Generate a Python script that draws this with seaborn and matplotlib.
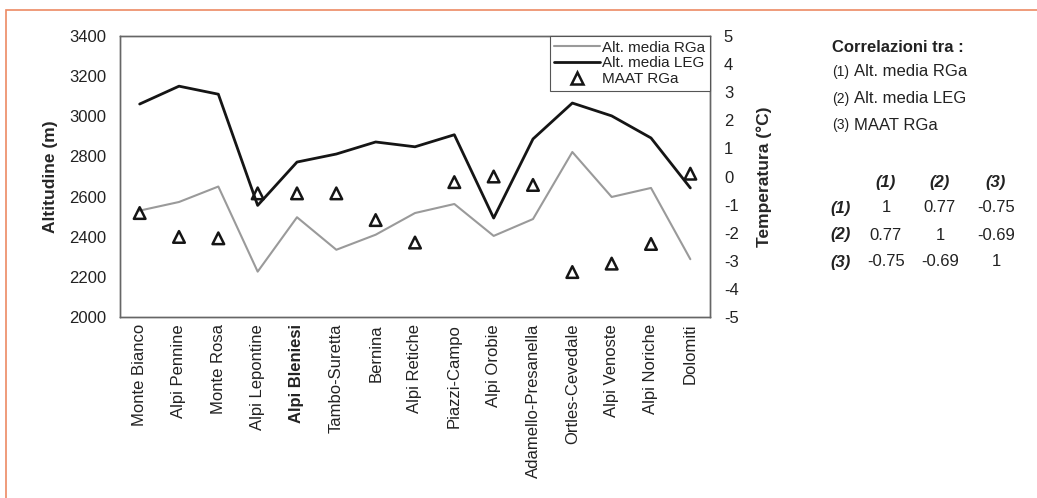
import pandas as pd
import seaborn as sns
import matplotlib.pyplot as plt
from matplotlib.lines import Line2D
from matplotlib.patches import Rectangle

# Dati
gruppi = ['Monte Bianco', 'Alpi Pennine', 'Monte Rosa', 'Alpi Lepontine', 'Alpi Bleniesi',
          'Tambo-Suretta', 'Bernina', 'Alpi Retiche', 'Piazzi-Campo', 'Alpi Orobie',
          'Adamello-Presanella', 'Ortles-Cevedale', 'Alpi Venoste', 'Alpi Noriche', 'Dolomiti']
alt_rga = [2530, 2573, 2650, 2226, 2497, 2335, 2410, 2518, 2563, 2404, 2488, 2822, 2598, 2643, 2288]
alt_leg = [3061, 3150, 3110, 2556, 2772, 2812, 2872, 2848, 2908, 2493, 2887, 3066, 3002, 2892, 2643]
maat_rga = [-1.3, -2.15, -2.2, -0.6, -0.6, -0.6, -1.55, -2.35, -0.2, 0.0, -0.3, -3.4, -3.1, -2.4, 0.1]

corr_nomi = ['Alt. media RGa', 'Alt. media LEG', 'MAAT RGa']
corr = [['1', '0.77', '-0.75'],
        ['0.77', '1', '-0.69'],
        ['-0.75', '-0.69', '1']]

df = pd.DataFrame({'pos': range(len(gruppi)), 'gruppo': gruppi,
                   'rga': alt_rga, 'leg': alt_leg, 'maat': maat_rga})

sns.set_style('white')
plt.rcParams['font.family'] = ['Liberation Sans', 'DejaVu Sans']
plt.rcParams['text.color'] = '#222222'
plt.rcParams['axes.unicode_minus'] = False

W, H = 1037, 498
fig = plt.figure(figsize=(W / 100, H / 100), dpi=100)


def px(x, y):
    return x / W, 1 - y / H


# cornice arancione
fig.patches.append(Rectangle(px(6, 520), 1.1, (520 - 10) / H, transform=fig.transFigure,
                             fill=False, edgecolor='#ec8a63', linewidth=1.2))

ax = fig.add_axes([120 / W, 1 - 317 / H, 590 / W, 281 / H])
sns.lineplot(data=df, x='pos', y='rga', ax=ax, color='#9a9a9a', linewidth=1.5)
sns.lineplot(data=df, x='pos', y='leg', ax=ax, color='#151515', linewidth=2.0)
ax.set_ylim(2000, 3400)
ax.set_yticks(range(2000, 3401, 200))
ax.set_xlim(-0.5, len(gruppi) - 0.5)
ax.set_xticks(df['pos'])
ax.set_xticklabels(gruppi, rotation=90, fontsize=12, color='#222222')
for lab in ax.get_xticklabels():
    if lab.get_text() == 'Alpi Bleniesi':
        lab.set_fontweight('bold')
ax.tick_params(axis='y', labelsize=12, labelcolor='#222222', length=0, pad=10)
ax.tick_params(axis='x', length=0, pad=5)
ax.set_xlabel('')
ax.set_ylabel('Altitudine (m)', fontsize=12.5, fontweight='bold', labelpad=8)

ax2 = ax.twinx()
sns.scatterplot(data=df, x='pos', y='maat', ax=ax2, marker='^', s=70,
                facecolor='none', edgecolor='#151515', linewidth=1.8)
ax2.set_ylim(-5, 5)
ax2.set_yticks(range(-5, 6))
ax2.tick_params(axis='y', labelsize=12, labelcolor='#222222', length=0, pad=10)
ax2.set_ylabel('Temperatura (°C)', fontsize=12.5, fontweight='bold', labelpad=13)
ax2.set_xlim(-0.5, len(gruppi) - 0.5)

for a in (ax, ax2):
    for sp in a.spines.values():
        sp.set_color('#666666')
        sp.set_linewidth(1.0)

handles = [Line2D([], [], color='#9a9a9a', linewidth=1.5),
           Line2D([], [], color='#151515', linewidth=2.0),
           Line2D([], [], linestyle='none', marker='^', markersize=8.5,
                  markerfacecolor='none', markeredgecolor='#151515', markeredgewidth=1.8)]
leg = ax2.legend(handles, ['Alt. media RGa', 'Alt. media LEG', 'MAAT RGa'],
                 loc='upper right', borderaxespad=0, fontsize=11, fancybox=False,
                 handlelength=3.0, handletextpad=0.15, labelspacing=0.12,
                 borderpad=0.3, framealpha=1)
leg.get_frame().set_edgecolor('#555555')
leg.get_frame().set_linewidth(0.8)

# testo delle correlazioni
fig.text(*px(832, 47), 'Correlazioni tra :', fontsize=12, fontweight='bold', va='center')
for i, nome in enumerate(corr_nomi):
    y = 72 + i * 26.5
    fig.text(*px(832, y), f'({i + 1})', fontsize=10, va='center')
    fig.text(*px(854, y), nome, fontsize=12, va='center')

col_x = [886, 940, 996]
for j, cx in enumerate(col_x):
    fig.text(*px(cx, 182), f'({j + 1})', fontsize=12, fontweight='bold',
             fontstyle='italic', ha='center', va='center')
for i, riga in enumerate(corr):
    y = 208 + i * 27
    fig.text(*px(830, y), f'({i + 1})', fontsize=12, fontweight='bold',
             fontstyle='italic', va='center')
    for cx, val in zip(col_x, riga):
        fig.text(*px(cx, y), val, fontsize=12, ha='center', va='center')

fig.savefig('out.png', dpi=100)
